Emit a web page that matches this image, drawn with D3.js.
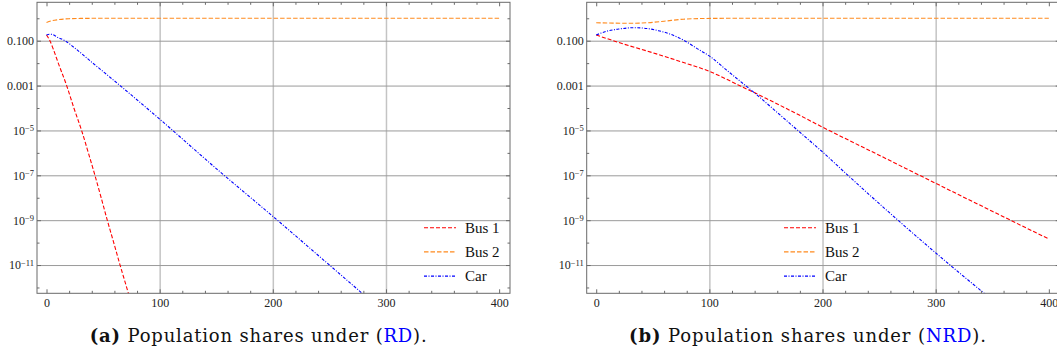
<!DOCTYPE html>
<html lang="en">
<head>
<meta charset="UTF-8">
<title>Population shares</title>
<script src="https://d3js.org/d3.v7.min.js"></script>
<style>
    body { margin: 0; background: #fff; }
    svg { display: block; }
    .grid-h line { stroke: #9a9a9a; stroke-width: 1; }
    .grid-v line { stroke: #c4c4c4; stroke-width: 1.5; }
    .ticks line { stroke: #6a6a6a; stroke-width: 1; }
    .legend text { font-family: "Liberation Serif", serif; font-size: 15px; fill: #111; }
    .caption { font-family: "DejaVu Serif", serif; font-size: 18px; fill: #111; }
</style>
</head>
<body>
<div id="chart"></div>
<script>
// axis ticks
const xMajor = [0, 100, 200, 300, 400];
const xMinor = [20, 40, 60, 80, 120, 140, 160, 180, 220, 240, 260, 280, 320, 340, 360, 380];
const xGrid = [100, 200, 300];
const yMajor = [1e-1, 1e-3, 1e-5, 1e-7, 1e-9, 1e-11];
const yMinor = [1e0, 1e-2, 1e-4, 1e-6, 1e-8, 1e-10, 1e-12];
const yLabels = [["0.100", ""], ["0.001", ""], ["10", "\u22125"], ["10", "\u22127"], ["10", "\u22129"], ["10", "\u221211"]];

const seriesNames = ["Bus 1", "Bus 2", "Car"];

// (a) RD  -- [time, share]
const rdBus1 = [[0, 0.18], [3, 0.1], [6, 0.042], [10.4, 1e-2], [17.8, 1e-3], [24.2, 1e-4], [31, 1e-5], [37, 1e-6],
    [42.8, 1e-7], [48.3, 1e-8], [53.7, 1e-9], [59.4, 1e-10], [65, 1e-11], [70, 1.4e-12], [76, 1.3e-13]];
const rdBus2 = [[0, 0.65], [5, 0.78], [10, 0.86], [15, 0.92], [20, 0.955], [30, 0.985], [40, 0.995], [60, 1],
    [100, 1], [200, 1], [300, 1], [400, 1]];
const rdCar = [[0, 0.18], [2.5, 0.195], [5, 0.19], [10, 0.14], [16.3, 0.1], [25, 0.047], [40, 0.011], [65, 1e-3],
    [100, 3.2e-5], [150, 2e-7], [204, 1e-9], [250, 1e-11], [285, 3e-13]];

// (b) NRD
const nrdBus1 = [[0, 0.18], [25, 0.069], [50, 0.029], [75, 0.0115], [100, 4.3e-3], [125, 1.1e-3], [150, 2.7e-4],
    [175, 6.3e-5], [200, 1.4e-5], [250, 7.9e-7], [300, 4.4e-8], [350, 2.5e-9], [400, 1.45e-10]];
const nrdBus2 = [[0, 0.63], [15, 0.61], [30, 0.6], [45, 0.63], [60, 0.74], [77, 0.91], [90, 0.965], [105, 0.99],
    [125, 1], [200, 1], [300, 1], [400, 1]];
const nrdCar = [[0, 0.18], [10, 0.27], [20, 0.33], [33, 0.38], [45, 0.35], [55, 0.28], [65, 0.2], [77, 0.107],
    [90, 0.042], [100.8, 0.0195], [115, 5e-3], [127, 1.6e-3], [141.6, 4e-4], [160, 6.3e-5], [180, 8.3e-6],
    [200, 1.1e-6], [221.5, 1.1e-7], [265.7, 1.1e-9], [312.7, 1e-11], [350, 2.8e-13]];

const colors = ["#ff0000", "#ff8a1e", "#0000ff"];
const dashes = ["4,2", "4.5,2", "3,1.5,1,1.5"];

const W = 473, H = 291, TOP = 2.3;

const svg = d3.select("#chart").append("svg")
    .attr("width", 1057)
    .attr("height", 356);

function drawPanel(left, data, legendX, id) {
    const g = svg.append("g").attr("transform", `translate(${left},${TOP})`);
    const x = d3.scaleLinear().domain([-8.4, 409.6]).range([0, W]);
    const y = d3.scaleLog().domain([5.5e-13, 5.15]).range([H, 0]);
    const tidy = s => {
        s.select(".domain").remove();
        s.selectAll("text")
            .style("font-family", "'Liberation Serif', 'Times New Roman', serif")
            .style("font-size", "12px")
            .style("fill", "#222");
    };

    // grid lines
    g.append("g").attr("class", "grid-v")
        .attr("transform", `translate(0,${H})`)
        .call(d3.axisBottom(x).tickValues(xGrid).tickSizeInner(-H).tickFormat(""))
        .call(tidy);
    g.append("g").attr("class", "grid-h")
        .call(d3.axisLeft(y).tickValues(yMajor).tickSizeInner(-W).tickFormat(""))
        .call(tidy);

    // curves
    g.append("clipPath").attr("id", id)
        .append("rect").attr("width", W).attr("height", H);
    const line = d3.line()
        .x(d => x(d[0]))
        .y(d => y(d[1]))
        .curve(d3.curveMonotoneX);
    g.append("g").attr("clip-path", `url(#${id})`)
        .selectAll("path")
        .data(data)
        .join("path")
        .attr("fill", "none")
        .attr("stroke", (d, i) => colors[i])
        .attr("stroke-width", 1.1)
        .attr("stroke-dasharray", (d, i) => dashes[i])
        .attr("d", line);

    // ticks, all pointing inward
    const ticks = g.append("g").attr("class", "ticks");
    ticks.append("g").attr("transform", `translate(0,${H})`)
        .call(d3.axisBottom(x).tickValues(xMajor).tickSizeInner(-4).tickPadding(5.5).tickFormat(d3.format("d")))
        .call(tidy);
    ticks.append("g").attr("transform", `translate(0,${H})`)
        .call(d3.axisBottom(x).tickValues(xMinor).tickSizeInner(-2.5).tickFormat(""))
        .call(tidy);
    ticks.append("g")
        .call(d3.axisTop(x).tickValues(xMajor).tickSizeInner(-4).tickFormat(""))
        .call(tidy);
    ticks.append("g")
        .call(d3.axisTop(x).tickValues(xMinor).tickSizeInner(-2.5).tickFormat(""))
        .call(tidy);

    const yAx = ticks.append("g")
        .call(d3.axisLeft(y).tickValues(yMajor).tickSizeInner(-4).tickPadding(3).tickFormat(""))
        .call(tidy);
    yAx.selectAll(".tick text").each(function (d, i) {
        const t = d3.select(this).attr("dy", "0.32em");
        t.append("tspan").text(yLabels[i][0]);
        if (yLabels[i][1]) {
            t.append("tspan").attr("dy", "-0.45em").style("font-size", "8.5px").text(yLabels[i][1]);
        }
    });
    ticks.append("g")
        .call(d3.axisLeft(y).tickValues(yMinor).tickSizeInner(-2.5).tickFormat(""))
        .call(tidy);
    ticks.append("g").attr("transform", `translate(${W},0)`)
        .call(d3.axisRight(y).tickValues(yMajor).tickSizeInner(-4).tickFormat(""))
        .call(tidy);
    ticks.append("g").attr("transform", `translate(${W},0)`)
        .call(d3.axisRight(y).tickValues(yMinor).tickSizeInner(-2.5).tickFormat(""))
        .call(tidy);

    // frame
    g.append("rect")
        .attr("width", W).attr("height", H)
        .attr("fill", "none")
        .attr("stroke", "#6a6a6a")
        .attr("stroke-width", 1);

    // legend
    const leg = g.append("g").attr("class", "legend")
        .attr("transform", `translate(${legendX},225.4)`);
    const item = leg.selectAll("g").data(seriesNames).join("g")
        .attr("transform", (d, i) => `translate(0,${i * 24.2})`);
    item.append("line")
        .attr("x1", 0).attr("x2", 32)
        .attr("stroke", (d, i) => colors[i])
        .attr("stroke-width", 1.1)
        .attr("stroke-dasharray", (d, i) => dashes[i]);
    item.append("text")
        .attr("x", 41).attr("y", 5.3)
        .text(d => d);
}

drawPanel(37, [rdBus1, rdBus2, rdCar], 387, "clip-a");
drawPanel(586.7, [nrdBus1, nrdBus2, nrdCar], 197.3, "clip-b");

// captions
function caption(xPos, tag, tail) {
    const t = svg.append("text").attr("class", "caption")
        .attr("x", xPos).attr("y", 342);
    t.append("tspan").attr("font-weight", "bold").text(`(${tag})`);
    t.append("tspan").text(" Population shares under (");
    t.append("tspan").attr("fill", "#0000ff").text(tail);
    t.append("tspan").text(").");
    return t;
}
caption(89.7, "a", "RD").attr("textLength", 337).attr("lengthAdjust", "spacing");
caption(629, "b", "NRD").attr("textLength", 357).attr("lengthAdjust", "spacing");
</script>
</body>
</html>
